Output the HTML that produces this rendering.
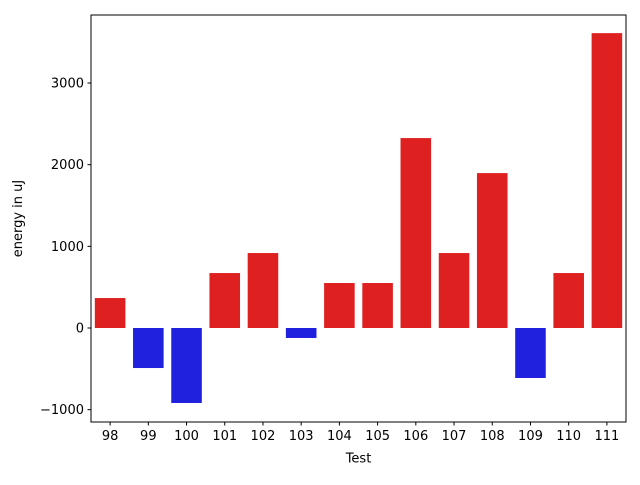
<!DOCTYPE html>
<html><head><meta charset="utf-8"><style>
body{margin:0;background:#fff;font-family:"Liberation Sans","DejaVu Sans",sans-serif;}
svg text{font-family:"DejaVu Sans","Liberation Sans",sans-serif;font-size:13px;fill:#000;}
</style></head><body>
<svg id="chart" width="640" height="480"></svg>
<script>
const categories=["98","99","100","101","102","103","104","105","106","107","108","109","110","111"];
const values=[367,-490,-918,673,918,-122,551,551,2326,918,1897,-612,673,3611];
const yTicks=[-1000,0,1000,2000,3000];
const yTickLabels=["\u22121000","0","1000","2000","3000"];
const L=91,R=626,T=15,B=422,yMin=-1151,yMax=3833;
const NS="http://www.w3.org/2000/svg";
const svg=document.getElementById('chart');
function y(v){return B-(v-yMin)/(yMax-yMin)*(B-T);}
const step=(R-L)/categories.length;
function xc(i){return L+step*(i+0.5);}
function mk(tag,attrs,parent){const e=document.createElementNS(NS,tag);for(const k in attrs)e.setAttribute(k,attrs[k]);(parent||svg).appendChild(e);return e;}
values.forEach((v,i)=>{
  const r=mk('rect',{x:xc(i)-step*0.4,width:step*0.8,y:Math.min(y(v),y(0)),height:Math.abs(y(v)-y(0)),fill:v>=0?'#df2020':'#2020df'});
  
  
});
const frame=mk('rect',{x:L,y:T,width:R-L,height:B-T,fill:'none',stroke:'#000','stroke-width':1});


yTicks.forEach((t,i)=>{
  const yy=y(t);
  mk('line',{x1:L-3.5,x2:L,y1:yy,y2:yy,stroke:'#000'});
  const tx=mk('text',{x:L-7,y:yy+4.5,'text-anchor':'end'});
  tx.textContent=yTickLabels[i];
  
  
});
categories.forEach((c,i)=>{
  const xx=xc(i);
  mk('line',{x1:xx,x2:xx,y1:B,y2:B+3.5,stroke:'#000'});
  const tx=mk('text',{x:xx,y:B+18,'text-anchor':'middle'});
  tx.textContent=c;
  
  
});
const xt=mk('text',{x:(L+R)/2,y:462.5,'text-anchor':'middle'});
xt.textContent='Test';


const yt=mk('text',{x:22,y:(T+B)/2,'text-anchor':'middle',transform:'rotate(-90 22 '+((T+B)/2)+')'});
yt.textContent='energy in uJ';


</script>
</body></html>
